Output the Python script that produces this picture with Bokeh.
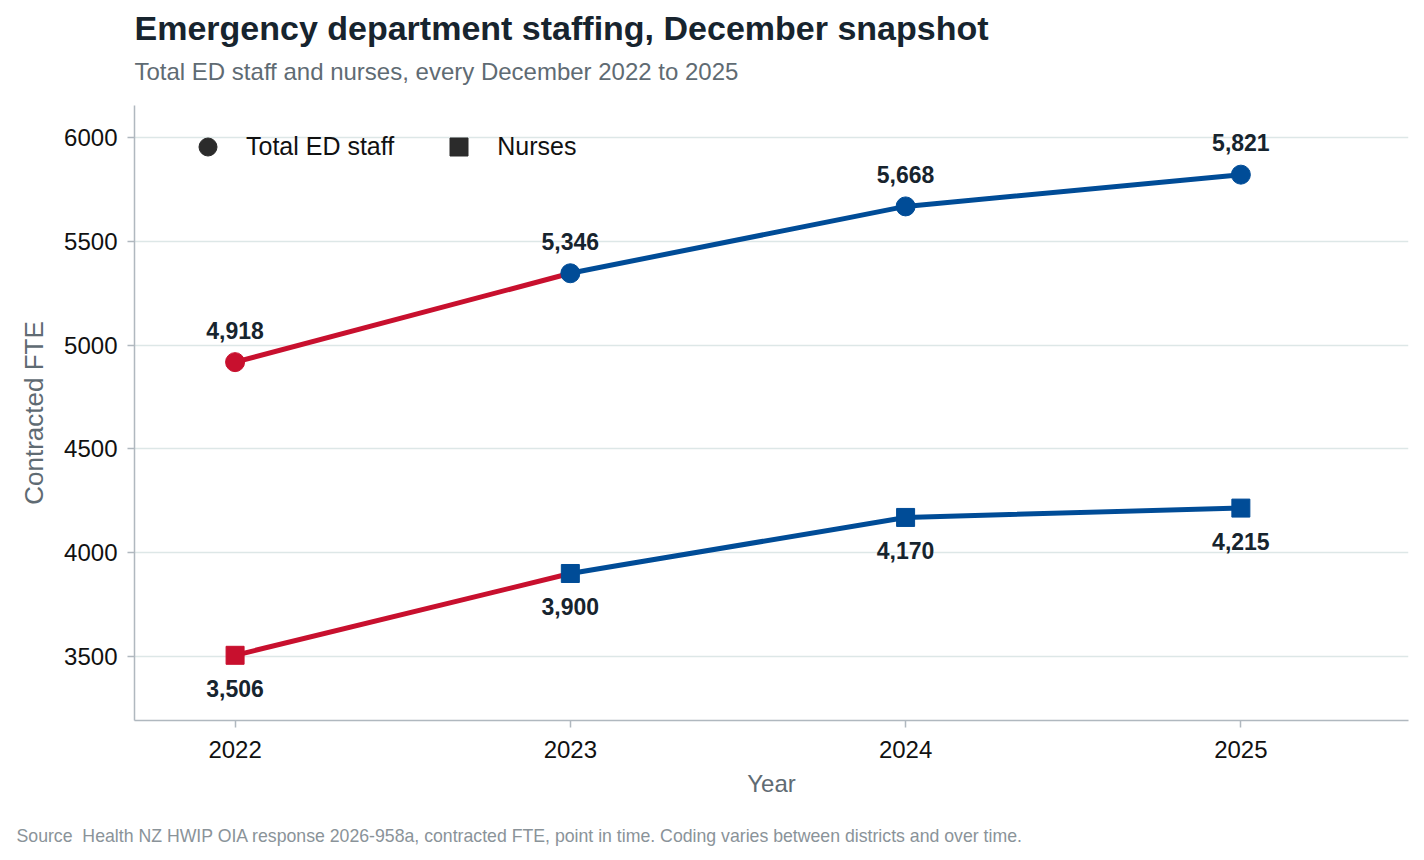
import numpy as np
from bokeh.plotting import figure
from bokeh.models import (ColumnDataSource, Title, Legend, LegendItem,
                          FixedTicker, Range1d)
from bokeh.core.properties import value
from bokeh.embed import file_html
from bokeh.resources import INLINE

# ---- data ----
years = [2022, 2023, 2024, 2025]
total_staff = [4918, 5346, 5668, 5821]
nurses = [3506, 3900, 4170, 4215]
y_ticks = [3500, 4000, 4500, 5000, 5500, 6000]
series_names = ["Total ED staff", "Nurses"]

TITLE = "Emergency department staffing, December snapshot"
SUBTITLE = "Total ED staff and nurses, every December 2022 to 2025"
SOURCE = ("Source\u00a0\u00a0Health NZ HWIP OIA response 2026-958a, contracted FTE, "
          "point in time. Coding varies between districts and over time.")

RED = "#C8102E"
BLUE = "#004C97"
DARK = "#2B2B2B"
TEXT = "#17242E"
GREY = "#5F6B73"
FONT = "Liberation Sans"

point_colors = [RED] + [BLUE] * (len(years) - 1)

p = figure(width=1424, height=860, output_backend="svg", toolbar_location=None,
           x_range=Range1d(2021.70, 2025.50), y_range=Range1d(3192, 6154),
           min_border_left=134, min_border_right=16,
           min_border_top=105, min_border_bottom=140)
p.outline_line_color = None
p.background_fill_color = "white"
p.border_fill_color = "white"

# ---- titles (stacked outward from the frame) ----
spacer_top = Title(text="\u00a0", text_font=FONT, text_font_size="10px",
                   standoff=4, align="left")
sub = Title(text=SUBTITLE, text_font=FONT, text_font_size="24px",
            text_font_style="normal", text_color=GREY, align="left",
            standoff=8, offset=0)
main = Title(text=TITLE, text_font=FONT, text_font_size="34px",
             text_font_style="bold", text_color=TEXT, align="left",
             standoff=10, offset=0)
p.add_layout(spacer_top, "above")
p.add_layout(sub, "above")
p.add_layout(main, "above")

# ---- grid / axes ----
p.xgrid.grid_line_color = None
p.ygrid.grid_line_color = "#DDE7E7"
p.ygrid.grid_line_width = 1.5
p.yaxis.ticker = FixedTicker(ticks=y_ticks)
p.xaxis.ticker = FixedTicker(ticks=years)

for ax in (p.xaxis, p.yaxis):
    ax.axis_line_color = "#B0B8BF"
    ax.axis_line_width = 1.5
    ax.major_tick_line_color = "#B0B8BF"
    ax.major_tick_line_width = 1.5
    ax.major_tick_in = 0
    ax.major_tick_out = 7
    ax.minor_tick_line_color = None
    ax.major_label_text_font = FONT
    ax.major_label_text_font_size = "24px"
    ax.major_label_text_color = "#111111"
    ax.axis_label_text_font = FONT
    ax.axis_label_text_font_style = "normal"
    ax.axis_label_text_color = GREY

p.xaxis.axis_label = "Year"
p.yaxis.axis_label = "Contracted FTE"
p.xaxis.axis_label_text_font_size = "24px"
p.yaxis.axis_label_text_font_size = "26px"
p.xaxis.major_label_standoff = 13
p.xaxis.axis_label_standoff = 9
p.yaxis.major_label_standoff = 10
p.yaxis.axis_label_standoff = 12

# ---- source note below the axis ----
spacer_bot = Title(text="\u00a0", text_font=FONT, text_font_size="12px",
                   standoff=7, align="left")
src = Title(text=SOURCE, text_font=FONT, text_font_size="17.7px",
            text_font_style="normal", text_color="#8A9399", align="left",
            offset=-118, standoff=2)
p.add_layout(spacer_bot, "below")
p.add_layout(src, "below")

# ---- lines: red segment 2022-2023, blue after ----
for vals in (total_staff, nurses):
    p.line(years[:2], vals[:2], line_color=RED, line_width=5)
    p.line(years[1:], vals[1:], line_color=BLUE, line_width=5)

src_t = ColumnDataSource(dict(x=years, y=total_staff, c=point_colors,
                              lab=[f"{v:,}" for v in total_staff]))
src_n = ColumnDataSource(dict(x=years, y=nurses, c=point_colors,
                              lab=[f"{v:,}" for v in nurses]))
p.scatter("x", "y", source=src_t, marker="circle", size=19,
          fill_color="c", line_color="c")
p.scatter("x", "y", source=src_n, marker="square", size=18,
          fill_color="c", line_color="c")

p.text("x", "y", text="lab", source=src_t, text_align="center",
       text_baseline="middle", y_offset=-32, text_font=value(FONT),
       text_font_size="23px", text_font_style="bold", text_color=TEXT)
p.text("x", "y", text="lab", source=src_n, text_align="center",
       text_baseline="middle", y_offset=33, text_font=value(FONT),
       text_font_size="23px", text_font_style="bold", text_color=TEXT)

# ---- legend with dark placeholder glyphs (NaN data, never drawn) ----
leg_c = p.scatter([np.nan], [np.nan], marker="circle", size=19,
                  fill_color=DARK, line_color=DARK)
leg_s = p.scatter([np.nan], [np.nan], marker="square", size=18,
                  fill_color=DARK, line_color=DARK)
legend = Legend(items=[LegendItem(label=series_names[0], renderers=[leg_c]),
                       LegendItem(label=series_names[1], renderers=[leg_s])],
                orientation="horizontal", location=(51, 551),
                border_line_color=None, background_fill_alpha=0,
                label_text_font=FONT, label_text_font_size="25px",
                label_text_color="#111111", glyph_width=45, glyph_height=45,
                label_standoff=16, spacing=42, padding=0, margin=0)
p.add_layout(legend, "center")

open("out.html", "w").write(file_html(p, INLINE))
